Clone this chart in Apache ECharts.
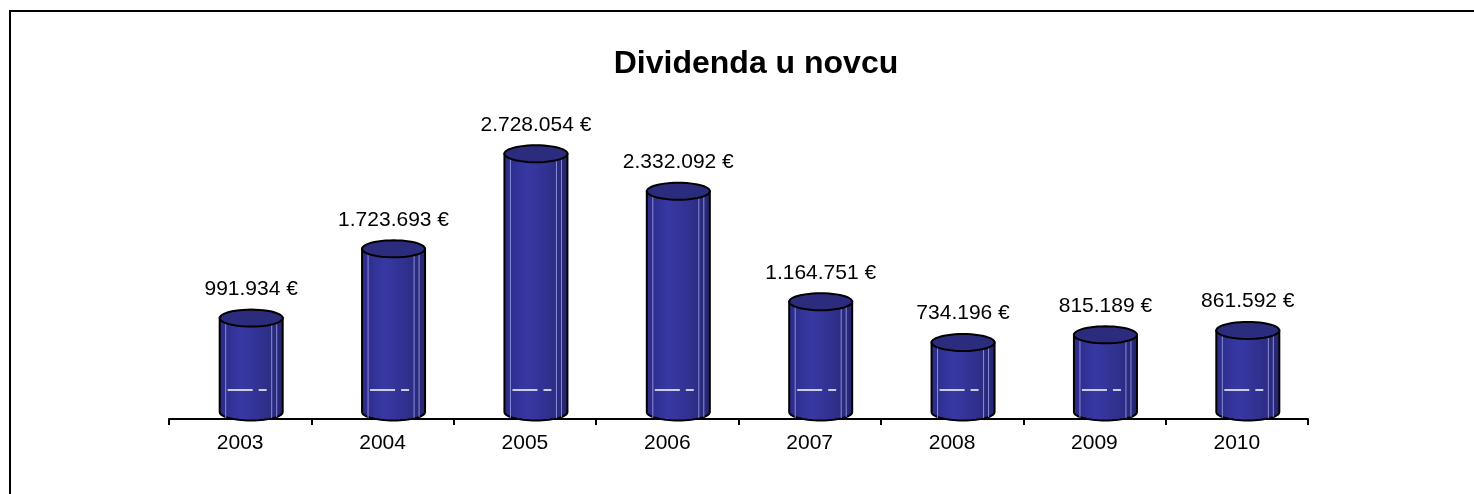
<!DOCTYPE html>
<html>
<head>
<meta charset="utf-8">
<script src="https://cdn.jsdelivr.net/npm/echarts@6/dist/echarts.min.js"></script>
<style>
html,body{margin:0;padding:0;background:#fff;}
#chart{width:1474px;height:494px;}
</style>
</head>
<body>
<div id="chart"></div>
<script>
var categories = ['2003','2004','2005','2006','2007','2008','2009','2010'];
var dividends = [991934, 1723693, 2728054, 2332092, 1164751, 734196, 815189, 861592];
var titleText = 'Dividenda u novcu';

function fmt(v){
  return String(v).replace(/\B(?=(\d{3})+(?!\d))/g, '.') + ' €';
}

var FONT = '"Liberation Sans", Arial, sans-serif';
var BAR_W = 63, RY = 8.5, OFFSET_X = 11, DEPTH_Y = 7;

function ellipsePts(cx, cy, rx, ry, a0, a1, n){
  var pts = [];
  for (var i = 0; i <= n; i++){
    var a = a0 + (a1 - a0) * i / n;
    pts.push([cx + rx * Math.cos(a), cy + ry * Math.sin(a)]);
  }
  return pts;
}

function renderItem(params, api){
  var idx = api.value(0);
  var val = api.value(1);
  var top = api.coord([idx, val]);
  var base = api.coord([idx, 0]);
  var cx = top[0] + OFFSET_X;
  var ty = top[1] - DEPTH_Y, by = base[1] - DEPTH_Y;
  var rx = BAR_W / 2;
  var L = cx - rx, R = cx + rx;
  var bottom = [];
  for (var i = 0; i <= 30; i++){
    var a = Math.PI - Math.PI * i / 30;
    bottom.push([cx + rx * Math.cos(a), by + RY * Math.sin(a)]);
  }
  var bodyPts = [[L, ty]].concat(bottom).concat([[R, ty]]);
  var topPts = ellipsePts(cx, ty, rx, RY, 0, Math.PI * 2, 48);
  var grad = new echarts.graphic.LinearGradient(0, 0, 1, 0, [
    {offset: 0, color: '#2a2a86'},
    {offset: 0.35, color: '#3838a4'},
    {offset: 0.7, color: '#30308e'},
    {offset: 1, color: '#25256e'}
  ]);
  var children = [
    {type: 'polygon', shape: {points: bodyPts}, style: {fill: grad, stroke: '#000', lineWidth: 2}},
    {type: 'line', shape: {x1: L + 6, y1: ty + 4, x2: L + 6, y2: by + 6}, style: {stroke: '#8c8cda', lineWidth: 1}},
    {type: 'line', shape: {x1: L + 52, y1: ty + 6, x2: L + 52, y2: by + 6}, style: {stroke: '#8c8cda', lineWidth: 1}},
    {type: 'line', shape: {x1: L + 57, y1: ty + 5, x2: L + 57, y2: by + 5}, style: {stroke: '#8c8cda', lineWidth: 1}},
    {type: 'line', shape: {x1: L + 8, y1: by - 22, x2: L + 33, y2: by - 22}, style: {stroke: '#ffffff', lineWidth: 1.5}},
    {type: 'line', shape: {x1: L + 39, y1: by - 22, x2: L + 47, y2: by - 22}, style: {stroke: '#ffffff', lineWidth: 1.5}},
    {type: 'polygon', shape: {points: topPts}, style: {fill: '#2c2c7e', stroke: '#000', lineWidth: 2}},
    {type: 'text', style: {text: fmt(val), x: cx, y: ty - 29, align: 'center', verticalAlign: 'middle',
      fontSize: 21, fontFamily: FONT, fill: '#000'}}
  ];
  return {type: 'group', children: children};
}

var chart = echarts.init(document.getElementById('chart'), null, {renderer: 'canvas'});
chart.setOption({
  animation: false,
  backgroundColor: '#ffffff',
  title: {
    text: titleText,
    left: 751,
    top: 43,
    textAlign: 'center',
    textStyle: {fontSize: 32, fontWeight: 'bold', fontFamily: FONT, color: '#000'}
  },
  graphic: [{
    type: 'rect', silent: true, z: 100,
    shape: {x: 10, y: 11, width: 1500, height: 500},
    style: {fill: 'none', stroke: '#000', lineWidth: 2}
  }],
  grid: {left: 169, right: 166, top: 135, bottom: 75},
  xAxis: {
    type: 'category',
    data: categories,
    z: 1,
    axisLine: {lineStyle: {color: '#000', width: 2}},
    axisTick: {show: true, length: 6, lineStyle: {color: '#000', width: 2}},
    axisLabel: {color: '#000', fontSize: 21, fontFamily: FONT, margin: 14}
  },
  yAxis: {
    type: 'value', min: 0, max: 3000000,
    show: false,
    splitLine: {show: false}
  },
  series: [{
    type: 'custom',
    renderItem: renderItem,
    clip: false,
    z: 3,
    data: dividends.map(function(v, i){ return [i, v]; })
  }]
});
</script>
</body>
</html>
